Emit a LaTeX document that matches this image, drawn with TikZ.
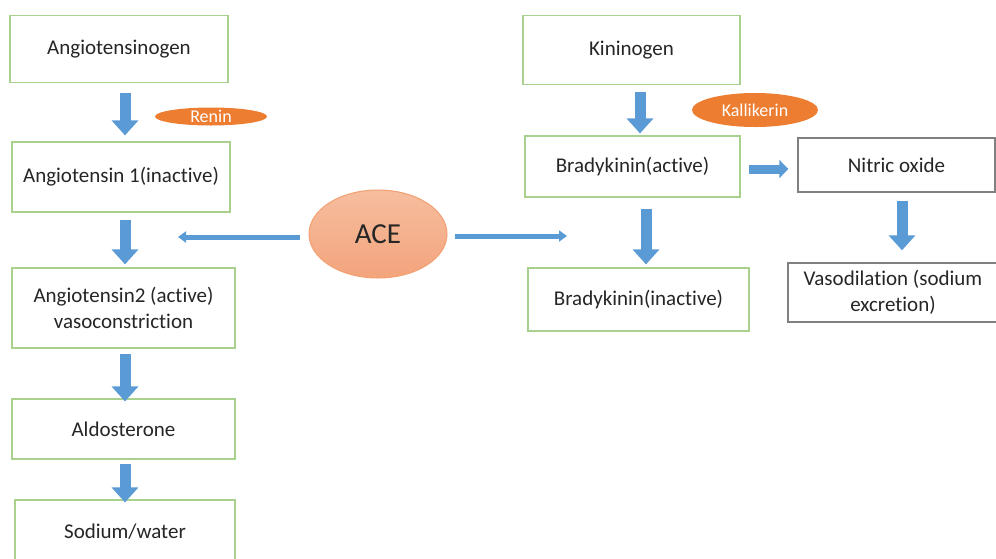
\documentclass[tikz,border=0pt]{standalone}
\usepackage{fontspec}
\setmainfont{Carlito}[Ligatures=NoCommon]
\usetikzlibrary{arrows.meta}
\usetikzlibrary{calc}
\usetikzlibrary{shapes.geometric}

\definecolor{boxgreen}{HTML}{A9D18E}
\definecolor{boxgray}{HTML}{808080}
\definecolor{flowblue}{HTML}{5B9BD5}
\definecolor{enzorange}{HTML}{ED7D31}
\definecolor{acetop}{HTML}{F6BE9F}
\definecolor{acebottom}{HTML}{F3A47C}
\definecolor{aceedge}{HTML}{F2A071}
\definecolor{txt}{HTML}{262626}

\begin{document}
\begin{tikzpicture}[x=1pt,y=-1pt,
    stepbox/.style={draw=boxgreen,line width=1.2pt,fill=white,text=txt,align=center,
        inner sep=0pt,font=\fontsize{21}{26}\selectfont},
    graybox/.style={stepbox,draw=boxgray,line width=1.4pt},
    enzyme/.style={ellipse,fill=enzorange,text=white,inner sep=0pt,font=\fontsize{18}{20}\selectfont},
    blockarrow/.style={draw=flowblue,line width=11pt,-{Triangle[width=26pt,length=15pt]}},
    sidearrow/.style={draw=flowblue,line width=9pt,-{Triangle[width=18pt,length=9pt]}},
    thinarrow/.style={draw=flowblue,line width=5pt,-{Triangle[width=11pt,length=8pt]}}]
                \useasboundingbox (0,0) rectangle (996,558);
                % angiotensin side
                \node[stepbox,minimum width=218pt,minimum height=67pt] (ang0) at (119,49) {Angiotensinogen};
                \node[stepbox,minimum width=218pt,minimum height=70pt] (ang1) at (121,177) {Angiotensin 1(inactive)};
                \node[stepbox,minimum width=223pt,minimum height=80pt] (ang2) at (123.5,308) {Angiotensin2 (active)\\vasoconstriction};
                \node[stepbox,minimum width=223pt,minimum height=60pt] (aldo) at (123.5,429) {Aldosterone};
                \node[stepbox,minimum width=220pt,minimum height=64pt] (sod) at (125,532) {Sodium/water};
                % kinin side
                \node[stepbox,minimum width=217pt,minimum height=69pt] (kin) at (631.5,50) {Kininogen};
                \node[stepbox,minimum width=215pt,minimum height=61pt] (bk1) at (632.5,166.5) {Bradykinin(active)};
                \node[stepbox,minimum width=221pt,minimum height=63pt] (bk0) at (638.5,299.5) {Bradykinin(inactive)};
                \node[graybox,minimum width=197pt,minimum height=54pt] (no) at (896.5,165) {Nitric oxide};
                \node[graybox,minimum width=210pt,minimum height=59pt] (vaso) at (893,292.5) {Vasodilation (sodium\\excretion)};
                % enzymes
                \node[enzyme,minimum width=112pt,minimum height=18pt] (renin) at (211,116.5) {Renin};
                \node[enzyme,minimum width=126pt,minimum height=34pt] (kall) at (755,110) {Kallikerin};
                \node[ellipse,draw=aceedge,line width=1pt,top color=acetop,bottom color=acebottom,text=txt,
                    minimum width=138pt,minimum height=88pt,font=\fontsize{29}{32}\selectfont] (ace) at (378,234) {ACE};
                \coordinate (aceL) at (178,237);
                \coordinate (aceR) at (567,236);
                % arrows
                \draw[blockarrow] ($(ang0.south)+(6,10)$) to ($(ang1.north)+(4,-6)$);
                \draw[blockarrow] ($(ang1.south)+(4,7)$) to ($(ang2.north)+(1.5,-3)$);
                \draw[blockarrow] ($(ang2.south)+(1.5,5)$) to ($(aldo.north)+(1.5,3)$);
                \draw[blockarrow] ($(aldo.south)+(1.5,4)$) to ($(sod.north)+(0,3)$);
                \draw[blockarrow] ($(kin.south)+(8.5,7)$) to ($(bk1.north)+(7.5,-2)$);
                \draw[blockarrow] ($(bk1.south)+(13.5,11)$) to ($(bk0.north)+(7.5,-3)$);
                \draw[blockarrow] ($(no.south)+(5.5,8)$) to ($(vaso.north)+(9,-12)$);
                \draw[sidearrow] ($(bk1.east)+(8,2.5)$) to ($(no.west)+(-9,4)$);
                \draw[thinarrow] ($(ace.west)+(-9,3)$) to (aceL);
                \draw[thinarrow] ($(ace.east)+(7,2)$) to (aceR);
            \end{tikzpicture}
\end{document}
